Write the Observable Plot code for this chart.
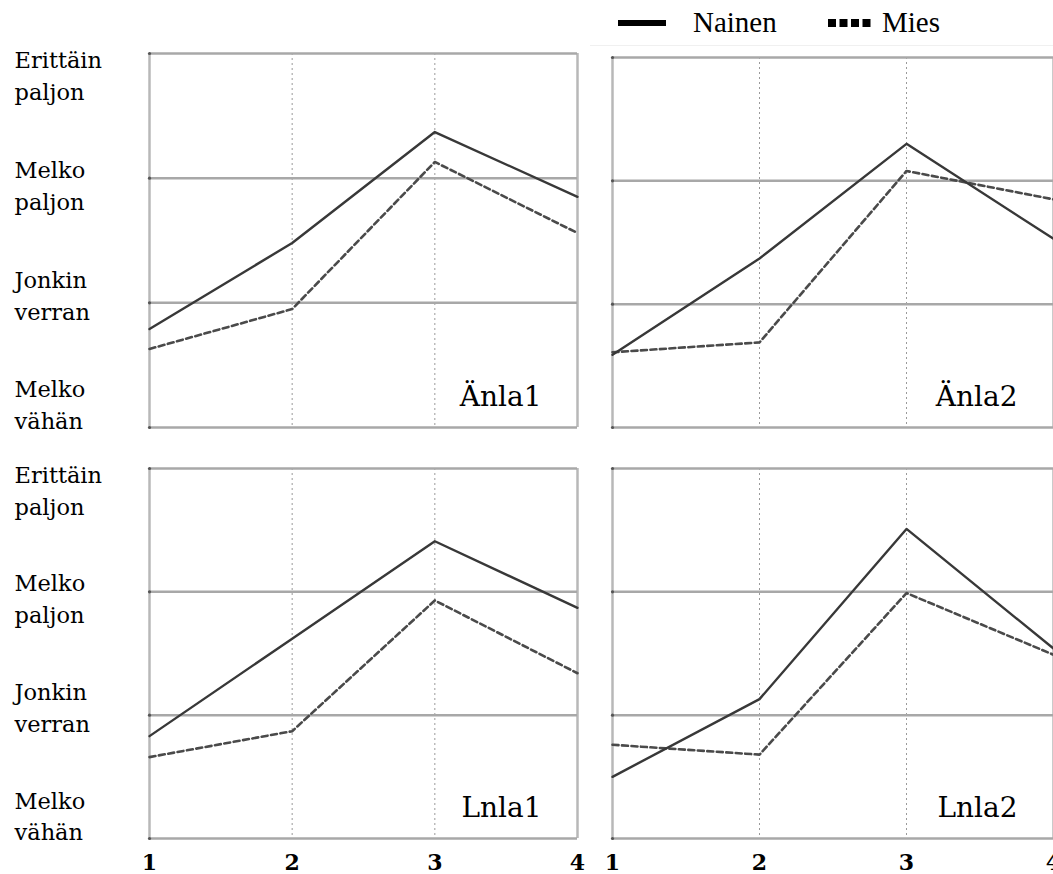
<!DOCTYPE html>
<html>
<head>
<meta charset="utf-8">
<script src="https://cdn.jsdelivr.net/npm/d3@7"></script>
<script src="https://cdn.jsdelivr.net/npm/@observablehq/plot@0.6"></script>
<style>
  html, body { margin: 0; padding: 0; background: #fff; overflow: hidden; }
  #root { position: relative; width: 1053px; height: 874px; overflow: hidden; background: #fff; }
  .panel { position: absolute; }
  #legend { position: absolute; left: 0; top: 0; width: 1053px; height: 46px; font-family: "Liberation Serif", serif; font-size: 29px; color: #000; }
  #legend .item { position: absolute; top: 6px; display: flex; align-items: center; }
  #legend svg { display: block; }
</style>
</head>
<body>
<div id="root">
  <div id="legend"></div>
</div>
<script>
// ---- data ----
const xValues = [1, 2, 3, 4];
const levelValues = [4, 3, 2, 1];
const levelLabels = ["Erittäin\npaljon", "Melko\npaljon", "Jonkin\nverran", "Melko\nvähän"];
const seriesNames = ["Nainen", "Mies"];
const panelNames = ["Änla1", "Änla2", "Lnla1", "Lnla2"];

const anla1Nainen = [1.79, 2.48, 3.37, 2.85];
const anla1Mies   = [1.63, 1.95, 3.13, 2.56];
const anla2Nainen = [1.59, 2.37, 3.30, 2.53];
const anla2Mies   = [1.61, 1.69, 3.08, 2.85];
const lnla1Nainen = [1.83, 2.62, 3.41, 2.87];
const lnla1Mies   = [1.66, 1.87, 2.93, 2.34];
const lnla2Nainen = [1.50, 2.13, 3.51, 2.54];
const lnla2Mies   = [1.76, 1.68, 2.99, 2.49];

const panelSeries = {
  "Änla1": [anla1Nainen, anla1Mies],
  "Änla2": [anla2Nainen, anla2Mies],
  "Lnla1": [lnla1Nainen, lnla1Mies],
  "Lnla2": [lnla2Nainen, lnla2Mies]
};

const SERIF = "'DejaVu Serif', serif";

function rows(name) {
  const out = [];
  panelSeries[name].forEach((vals, si) => {
    vals.forEach((v, i) => out.push({x: xValues[i], y: v, series: seriesNames[si]}));
  });
  return out;
}

function panel(name, opts) {
  const data = rows(name);
  const levels = levelValues.map((v, i) => ({v, label: levelLabels[i]}));
  // labels are spread slightly inside the value range, as in the reference
  const mid = (d3.min(levelValues) + d3.max(levelValues)) / 2;
  const marks = [
    Plot.ruleX([2, 3], {stroke: "#9a9a9a", strokeWidth: 1, strokeDasharray: "2,3"}),
    Plot.ruleX([1, 4], {stroke: "#b8b8b8", strokeWidth: 2.5}),
    Plot.ruleY(levelValues, {stroke: "#a8a8a8", strokeWidth: 2.5}),
    Plot.dot(levelValues, {x: () => 1, y: d => d, r: 1.6, fill: "#555", stroke: null}),
    Plot.line(data.filter(d => d.series === "Mies"), {x: "x", y: "y", stroke: "#4a4a4a", strokeWidth: 2.6, strokeDasharray: "6,3.5"}),
    Plot.line(data.filter(d => d.series === "Nainen"), {x: "x", y: "y", stroke: "#383838", strokeWidth: 2.4}),
    Plot.text([name], {frameAnchor: "bottom-right", dx: -36, dy: -22, text: d => d, fontSize: 28, fontFamily: SERIF, fill: "#000", lineAnchor: "bottom"})
  ];
  if (opts.yLabels) {
    marks.push(Plot.text(levels, {y: d => mid + (d.v - mid) * 0.88, dy: -2, text: "label", frameAnchor: "left", dx: -135, textAnchor: "start", fontSize: 22.5, fontFamily: SERIF, fill: "#000", lineHeight: 1.42}));
  }
  if (opts.xLabels) {
    marks.push(Plot.axisX({ticks: xValues, tickSize: 0, tickPadding: 16, fontSize: 22, fontFamily: SERIF, fontWeight: "bold", color: "#000", label: null, tickFormat: d => String(d)}));
  }
  return Plot.plot({
    width: opts.width,
    height: opts.height,
    marginLeft: opts.ml,
    marginRight: opts.mr,
    marginTop: opts.mt,
    marginBottom: opts.mb,
    x: {type: "linear", domain: [1, 4], axis: null},
    y: {type: "linear", domain: [1, 4], axis: null},
    style: {background: "transparent", overflow: "visible", fontFamily: "DejaVu Serif, serif"},
    marks
  });
}

const root = document.getElementById("root");
function place(el, left, top) {
  el.classList.add("panel");
  el.style.left = left + "px";
  el.style.top = top + "px";
  root.appendChild(el);
}

place(panel("Änla1", {width: 580, height: 440, ml: 149, mr: 3, mt: 53, mb: 13, yLabels: true}), 0, 0);
place(panel("Änla2", {width: 473, height: 440, ml: 32, mr: 0, mt: 57, mb: 13}), 580, 0);
place(panel("Lnla1", {width: 580, height: 434, ml: 149, mr: 3, mt: 28, mb: 36, yLabels: true, xLabels: true}), 0, 440);
place(panel("Lnla2", {width: 473, height: 434, ml: 32, mr: 0, mt: 28, mb: 36, xLabels: true}), 580, 440);

// ---- legend ----
const legend = document.getElementById("legend");
function legendItem(left, dash, width, sw, label, textGap) {
  const item = document.createElement("div");
  item.className = "item";
  item.style.left = left + "px";
  const s = d3.create("svg").attr("width", width + 2).attr("height", 20);
  s.append("line").attr("x1", 0).attr("x2", width).attr("y1", 10).attr("y2", 10)
    .attr("stroke", "#000").attr("stroke-width", sw)
    .attr("stroke-dasharray", dash || null);
  item.appendChild(s.node());
  const t = document.createElement("span");
  t.textContent = label;
  t.style.marginLeft = textGap + "px";
  item.appendChild(t);
  legend.appendChild(item);
}
legendItem(618, null, 48, 6, seriesNames[0], 25);
legendItem(828, "8,3.5", 43, 8, seriesNames[1], 9);
const fr = document.createElement("div");
fr.style.cssText = "position:absolute;left:590px;top:45px;width:463px;height:1px;background:#f0f0f0;";
legend.appendChild(fr);
</script>
</body>
</html>
